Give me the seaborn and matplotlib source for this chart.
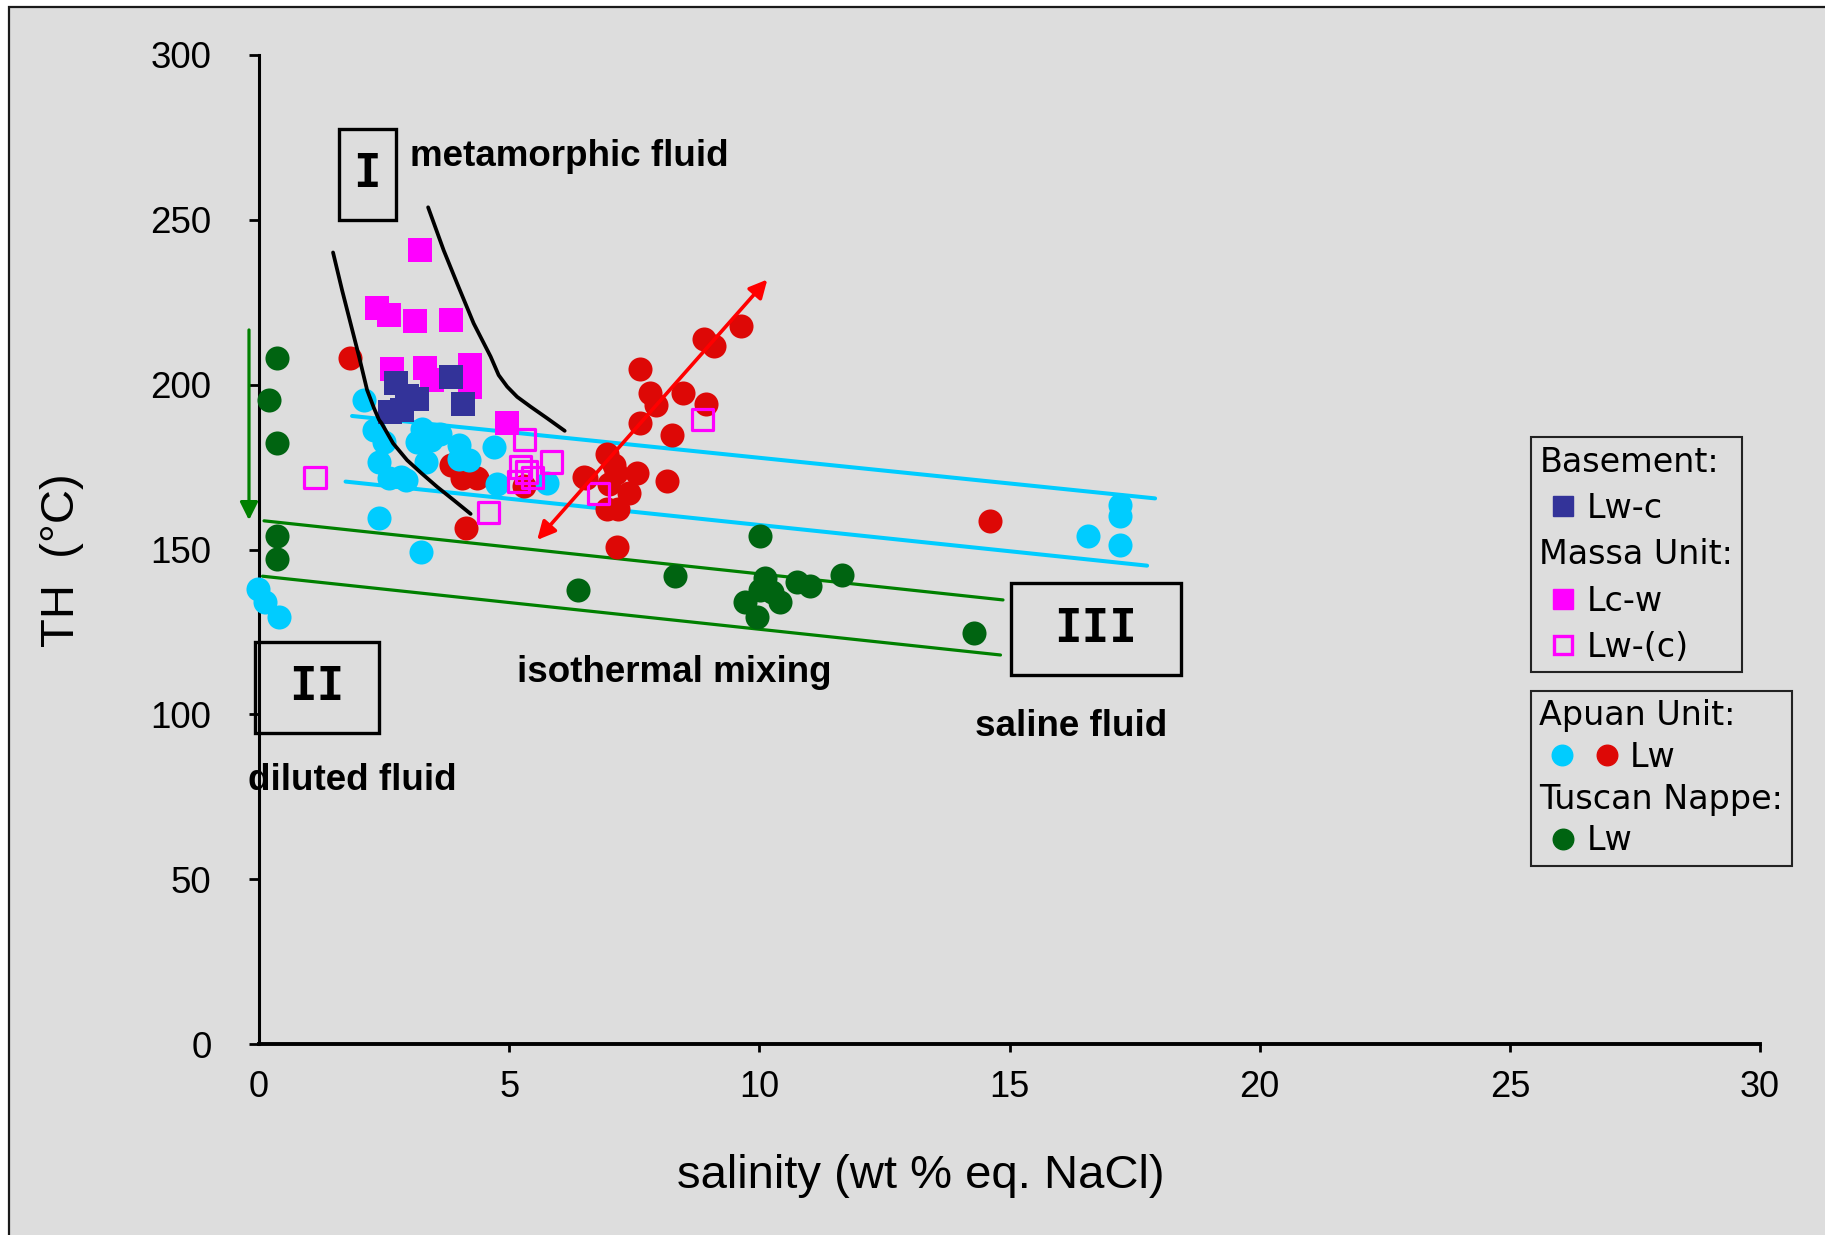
import matplotlib
matplotlib.use("Agg")
import matplotlib.pyplot as plt
from matplotlib.lines import Line2D
from matplotlib.patches import Rectangle
from matplotlib.legend_handler import HandlerTuple
import seaborn as sns
import pandas as pd

# ---- fluid inclusion data: salinity (wt % eq. NaCl) vs homogenisation T (°C) ----
basement_lwc_sal = [2.73, 3.16, 2.96, 2.62, 2.85, 3.83, 4.07]
basement_lwc_th = [200.6, 195.8, 196.5, 191.8, 192.3, 202.4, 194.1]

massa_lcw_sal = [3.21, 2.35, 2.60, 3.11, 3.84, 2.66, 3.31, 3.46, 4.21, 4.21, 4.95]
massa_lcw_th = [241.0, 223.4, 221.1, 219.3, 219.6, 204.9, 205.2, 201.4, 205.9, 199.4, 188.3]

massa_lwc_sal = [1.12, 4.59, 5.31, 5.84, 5.23, 5.46, 5.19, 5.35, 6.78, 8.86]
massa_lwc_th = [171.8, 161.2, 183.3, 176.5, 175.0, 171.8, 170.6, 173.5, 167.0, 189.5]

apuan_blue_sal = [-0.02, 0.11, 0.39, 2.09, 2.29, 2.50, 2.40, 2.60, 2.83, 2.93, 3.26, 3.16,
                  3.43, 3.62, 3.33, 3.99, 3.99, 4.19, 4.69, 4.75, 5.75, 2.40, 3.23,
                  17.20, 17.20, 16.56, 17.20]
apuan_blue_th = [138.0, 134.2, 129.6, 195.2, 186.4, 182.7, 176.6, 171.6, 172.1, 171.1, 186.7, 182.7,
                 183.2, 185.0, 176.6, 181.7, 177.6, 177.1, 181.0, 169.9, 170.1, 159.5, 149.3,
                 163.5, 160.1, 154.1, 151.4]

apuan_red_sal = [1.82, 3.83, 4.06, 4.36, 4.14, 5.30, 6.49, 8.89, 9.09, 9.64, 7.62, 7.82, 7.94,
                 8.48, 8.94, 7.62, 8.26, 6.95, 7.09, 6.54, 7.56, 7.13, 7.40, 6.95, 7.17, 8.16,
                 7.16, 14.62, 7.00]
apuan_red_th = [208.2, 175.6, 171.6, 171.6, 156.5, 169.3, 171.9, 214.0, 211.6, 217.7, 204.7, 197.6, 193.8,
                197.6, 194.2, 188.3, 184.7, 178.9, 175.6, 171.6, 173.1, 173.1, 167.0, 162.3, 162.3, 170.9,
                150.8, 158.7, 170.0]

tuscan_sal = [0.35, 0.19, 0.35, 0.35, 0.35, 6.37, 8.32, 10.02, 10.12, 9.72, 9.96, 10.02, 10.42,
              10.25, 10.76, 11.02, 11.65, 14.30]
tuscan_th = [208.2, 195.3, 182.2, 154.2, 147.0, 137.7, 142.0, 154.1, 141.3, 134.2, 129.6, 137.7, 134.2,
             137.0, 140.2, 138.9, 142.3, 124.6]

# ---- interpretive guides ----
mix_blue_upper = ([1.86, 17.91], [190.5, 165.5])
mix_blue_lower = ([1.73, 17.75], [170.6, 145.1])
mix_green_upper = ([0.10, 14.87], [158.7, 134.7])
mix_green_lower = ([0.07, 14.82], [141.9, 118.0])

meta_left_sal = [1.48, 1.66, 1.83, 2.00, 2.16, 2.30, 2.40, 2.45, 2.68, 2.96, 3.25, 3.56, 3.89, 4.23]
meta_left_th = [240.1, 228.7, 218.6, 208.5, 198.4, 192.8, 189.3, 188.3, 182.2, 177.1, 173.1, 169.0, 165.0, 160.8]
meta_right_sal = [3.38, 3.69, 3.96, 4.29, 4.63, 4.79, 4.96, 5.16, 5.43, 5.76, 6.11]
meta_right_th = [253.8, 240.8, 230.7, 218.6, 208.5, 202.9, 199.4, 196.3, 193.3, 189.8, 186.0]

red_trend_ends = ([5.56, 10.16], [152.9, 231.9])
dilution_arrow = ([-0.2, -0.2], [216.6, 158.9])

x_ticks = [0, 5, 10, 15, 20, 25, 30]
y_ticks = [0, 50, 100, 150, 200, 250, 300]

NAVY = "#333399"
MAGENTA = "#FF00FF"
CYAN = "#00CCFF"
RED = "#DD0806"
DKGREEN = "#006411"
LINEGREEN = "#008000"
BG = "#DDDDDD"

sns.set_theme(style="white")
plt.rcParams["font.family"] = ["Liberation Sans", "DejaVu Sans"]
plt.rcParams["text.color"] = "black"
plt.rcParams["axes.labelcolor"] = "black"

W, H = 1825, 1235
fig = plt.figure(figsize=(W / 100, H / 100), dpi=100, facecolor="white")
fig.add_artist(Rectangle((9 / W, -0.05), 1.2, 1.05 - 7 / H, transform=fig.transFigure,
                         facecolor=BG, edgecolor="#1a1a1a", lw=1.6, zorder=-10))

ax = fig.add_axes([259 / W, 1 - 1044 / H, (1760 - 259) / W, (1044 - 55) / H])
ax.set_facecolor("none")

# mixing trend lines
for (xs, ys), col, lw in [(mix_blue_upper, CYAN, 2.9), (mix_blue_lower, CYAN, 2.9),
                          (mix_green_upper, LINEGREEN, 2.3), (mix_green_lower, LINEGREEN, 2.3)]:
    sns.lineplot(x=xs, y=ys, ax=ax, color=col, lw=lw, sort=False, estimator=None,
                 legend=False, zorder=2, clip_on=False)

S_CIRC = 300
S_SQ = 290


def pts(xs, ys):
    return pd.DataFrame({"sal": xs, "th": ys})


sns.scatterplot(data=pts(apuan_red_sal, apuan_red_th), x="sal", y="th", ax=ax, color=RED,
                s=S_CIRC, linewidth=0, legend=False, zorder=3, clip_on=False)
sns.scatterplot(data=pts(apuan_blue_sal, apuan_blue_th), x="sal", y="th", ax=ax, color=CYAN,
                s=S_CIRC, linewidth=0, legend=False, zorder=4, clip_on=False)
sns.scatterplot(data=pts(tuscan_sal, tuscan_th), x="sal", y="th", ax=ax, color=DKGREEN,
                s=S_CIRC, linewidth=0, legend=False, zorder=4, clip_on=False)
sns.scatterplot(data=pts(massa_lcw_sal, massa_lcw_th), x="sal", y="th", ax=ax, color=MAGENTA,
                marker="s", s=S_SQ, linewidth=0, legend=False, zorder=5, clip_on=False)
sns.scatterplot(data=pts(basement_lwc_sal, basement_lwc_th), x="sal", y="th", ax=ax, color=NAVY,
                marker="s", s=S_SQ, linewidth=0, legend=False, zorder=6, clip_on=False)
sns.scatterplot(data=pts(massa_lwc_sal, massa_lwc_th), x="sal", y="th", ax=ax, color=MAGENTA,
                marker="s", s=235, facecolor="none", edgecolor=MAGENTA, linewidth=2.3,
                legend=False, zorder=7, clip_on=False)

# metamorphic fluid envelope
for xs, ys in [(meta_left_sal, meta_left_th), (meta_right_sal, meta_right_th)]:
    sns.lineplot(x=xs, y=ys, ax=ax, color="black", lw=2.7, sort=False, estimator=None,
                 legend=False, zorder=8)

# arrows
ax.annotate("", xy=(red_trend_ends[0][0], red_trend_ends[1][0]),
            xytext=(red_trend_ends[0][1], red_trend_ends[1][1]),
            arrowprops=dict(arrowstyle="<|-|>", color="#FF0000", lw=2.6, mutation_scale=27,
                            shrinkA=0, shrinkB=0), zorder=9)
ax.annotate("", xy=(dilution_arrow[0][1], dilution_arrow[1][1]),
            xytext=(dilution_arrow[0][0], dilution_arrow[1][0]),
            arrowprops=dict(arrowstyle="-|>", color=LINEGREEN, lw=2.3, mutation_scale=27,
                            shrinkA=0, shrinkB=0), annotation_clip=False, zorder=9)

# fluid end-member boxes
for (x0, x1, y0, y1), lab in [((1.593, 2.732, 249.9, 277.5), "I"),
                              ((-0.08, 2.405, 94.4, 122.0), "II"),
                              ((15.03, 18.43, 111.9, 139.7), "III")]:
    ax.add_patch(Rectangle((x0, y0), x1 - x0, y1 - y0, fill=False, edgecolor="black",
                           lw=2.4, zorder=10, clip_on=False))
    ax.text((x0 + x1) / 2, (y0 + y1) / 2, lab, ha="center", va="center", color="black",
            family="DejaVu Sans Mono", fontweight="bold", fontsize=33, zorder=10)

bold = dict(fontsize=26.5, fontweight="bold", ha="left", va="center", color="black", zorder=10)
ax.text(3.01, 269.2, "metamorphic fluid", **bold)
ax.text(5.15, 112.8, "isothermal mixing", **bold)
ax.text(14.31, 96.2, "saline fluid", **bold)
ax.text(-0.22, 80.0, "diluted fluid", **bold)

# axes
ax.set_xlim(0, 30)
ax.set_ylim(0, 300)
ax.set_xticks(x_ticks)
ax.set_yticks(y_ticks)
ax.set_xticklabels([str(v) for v in x_ticks])
ax.set_yticklabels([str(v) for v in y_ticks])
for side in ["top", "right"]:
    ax.spines[side].set_visible(False)
ax.spines["left"].set_linewidth(2.2)
ax.spines["bottom"].set_linewidth(2.8)
for side in ["left", "bottom"]:
    ax.spines[side].set_color("black")
ax.tick_params(axis="x", bottom=True, direction="out", length=5.8, width=2, pad=13,
               labelsize=26, color="black", labelcolor="black")
ax.tick_params(axis="y", left=True, direction="out", length=7.2, width=2, pad=27,
               labelsize=26.5, color="black", labelcolor="black")
ax.xaxis.get_major_ticks()[0].tick1line.set_visible(False)

ax.set_xlabel("salinity (wt % eq. NaCl)", fontsize=34, va="center", color="black")
ax.xaxis.set_label_coords(0.4408, -0.133)
ax.set_ylabel("TH  (°C)", fontsize=34, va="center", color="black")
ax.yaxis.set_label_coords(-0.131, 0.489)


# ---- legends ----
class WideTuple(HandlerTuple):
    def __init__(self, scale=1.92, **kw):
        super().__init__(**kw)
        self.scale = scale

    def legend_artist(self, legend, orig_handle, fontsize, handlebox):
        handlebox.width *= self.scale
        return super().legend_artist(legend, orig_handle, fontsize, handlebox)


def drop_header_handles(leg, headers):
    for column in leg._legend_handle_box.get_children():
        for row in column.get_children():
            kids = row.get_children()
            if len(kids) == 2 and kids[1].get_text() in headers:
                row._children = [kids[1]]


MS = 14.8
blank = Line2D([], [], linestyle="none")
h_lwc = Line2D([], [], ls="none", marker="s", ms=MS, color=NAVY, mec=NAVY)
h_lcw = Line2D([], [], ls="none", marker="s", ms=MS, color=MAGENTA, mec=MAGENTA)
h_lw_c = Line2D([], [], ls="none", marker="s", ms=12.8, mfc="none", mec=MAGENTA, mew=2.4)
h_cyan = Line2D([], [], ls="none", marker="o", ms=MS, color=CYAN, mec=CYAN)
h_red = Line2D([], [], ls="none", marker="o", ms=MS, color=RED, mec=RED)
h_green = Line2D([], [], ls="none", marker="o", ms=MS, color=DKGREEN, mec=DKGREEN)

leg_kw = dict(loc="upper left", bbox_transform=fig.transFigure, frameon=True, fancybox=False,
              edgecolor="#222222", facecolor=BG, framealpha=1, borderpad=0.25,
              handlelength=1.42, handletextpad=0.0, borderaxespad=0,
              prop={"family": "DejaVu Sans", "size": 24})

heads1 = ["Basement:", "Massa Unit:"]
leg1 = fig.legend([blank, h_lwc, blank, h_lcw, h_lw_c],
                  ["Basement:", "Lw-c", "Massa Unit:", "Lc-w", "Lw-(c)"],
                  bbox_to_anchor=(1531 / W, 1 - 437.3 / H), labelspacing=0.40, **leg_kw)
leg1.get_frame().set_linewidth(1.5)
drop_header_handles(leg1, heads1)

heads2 = ["Apuan Unit:", "Tuscan Nappe:"]
leg2 = fig.legend([blank, (h_cyan, h_red), blank, h_green],
                  ["Apuan Unit:", "Lw", "Tuscan Nappe:", "Lw"],
                  bbox_to_anchor=(1531 / W, 1 - 691 / H), labelspacing=0.26,
                  handler_map={tuple: WideTuple(ndivide=None, pad=0)}, **leg_kw)
leg2.get_frame().set_linewidth(1.5)
drop_header_handles(leg2, heads2)
for leg in (leg1, leg2):
    for t in leg.get_texts():
        t.set_color("black")

fig.savefig("out.png", dpi=100, facecolor="white")
